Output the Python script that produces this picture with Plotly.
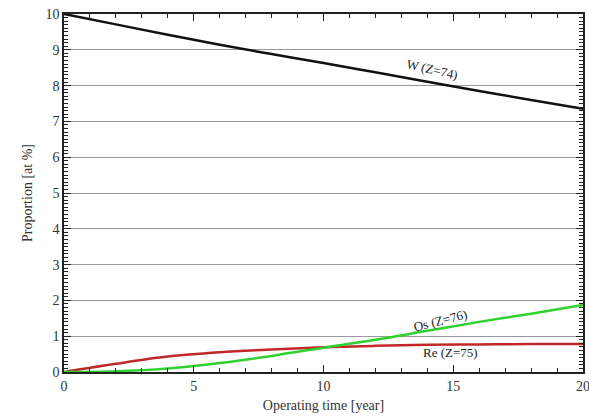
import plotly.graph_objects as go

years = [0, 2, 4, 6, 8, 10, 12, 14, 16, 18, 20]
w_vals = [10.0, 9.71, 9.42, 9.14, 8.88, 8.63, 8.37, 8.11, 7.85, 7.6, 7.35]
re_vals = [0.0, 0.23, 0.43, 0.55, 0.63, 0.69, 0.73, 0.76, 0.77, 0.78, 0.78]
os_vals = [0.0, 0.02, 0.1, 0.25, 0.45, 0.68, 0.9, 1.15, 1.4, 1.63, 1.87]

font = "Liberation Serif, Times New Roman, serif"

fig = go.Figure()
fig.add_trace(go.Scatter(x=years, y=w_vals, mode="lines", line=dict(color="#111111", width=2.5, shape="spline"), name="W"))
fig.add_trace(go.Scatter(x=years, y=re_vals, mode="lines", line=dict(color="#c0282a", width=2.5, shape="spline"), name="Re"))
fig.add_trace(go.Scatter(x=years, y=os_vals, mode="lines", line=dict(color="#2ed12e", width=2.5, shape="spline"), name="Os"))

fig.add_annotation(x=14.2, y=8.45, text="W (Z=74)", showarrow=False, textangle=13, font=dict(family=font, size=13, color="#222"))
fig.add_annotation(x=14.5, y=1.45, text="Os (Z=76)", showarrow=False, textangle=-14, font=dict(family=font, size=13, color="#222"))
fig.add_annotation(x=14.9, y=0.55, text="Re (Z=75)", showarrow=False, font=dict(family=font, size=13, color="#222"))

fig.update_layout(
    width=589, height=419,
    margin=dict(l=64, r=6, t=14, b=47),
    paper_bgcolor="white", plot_bgcolor="white",
    showlegend=False,
    font=dict(family=font, size=14, color="#333"),
    xaxis=dict(range=[0, 20], tickvals=[0, 5, 10, 15, 20], ticks="inside", ticklen=7, tickcolor="#222",
               showline=True, linecolor="#222", linewidth=1.5, mirror="allticks",
               showgrid=False, zeroline=False, automargin=False, ticklabeloverflow="allow",
               minor=dict(dtick=1, ticks="inside", ticklen=4, tickcolor="#222"),
               title=dict(text="Operating time [year]", font=dict(size=14), standoff=8)),
    yaxis=dict(range=[0, 10], dtick=1, ticks="inside", ticklen=7, tickcolor="#222",
               showline=True, linecolor="#222", linewidth=1.5, mirror="allticks",
               showgrid=True, gridcolor="#999", gridwidth=1, zeroline=False, automargin=False,
               ticklabeloverflow="allow",
               minor=dict(dtick=0.1, ticks="inside", ticklen=4, tickcolor="#222", showgrid=False),
               title=dict(text="Proportion [at %]", font=dict(size=14), standoff=10)),
)

fig.write_html("out.html", config={"displayModeBar": False},
               post_script="document.body.style.margin='0';document.body.style.overflow='hidden';")
